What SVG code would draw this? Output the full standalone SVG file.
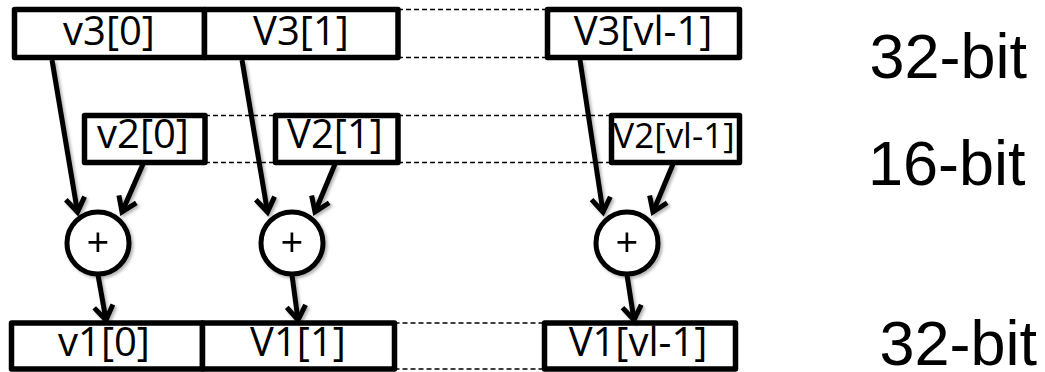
<svg xmlns="http://www.w3.org/2000/svg" width="1045" height="372" viewBox="0 0 1045 372">
  <style>
    .box { fill: #fff; stroke: #000; stroke-width: 5.5; stroke-linejoin: round; }
    .dash { stroke: #000; stroke-width: 1.6; stroke-dasharray: 5 3; fill: none; }
    .lbl { font-family: "Open Sans", "Liberation Sans", sans-serif; font-size: 40px; text-anchor: middle; fill: #000; }
    .adder { fill: #fff; stroke: #000; stroke-width: 5; }
    .plus { font-family: "Open Sans", "Liberation Sans", sans-serif; font-size: 40px; text-anchor: middle; fill: #000; }
    .wire { stroke: #000; stroke-width: 5; fill: none; }
    .width { font-family: "Liberation Sans", Arial, sans-serif; font-size: 63px; fill: #000; }
  </style>
  <defs>
    <marker id="head" markerUnits="userSpaceOnUse" markerWidth="30" markerHeight="30" viewBox="-20 -15 25 30" refX="0" refY="0" orient="auto">
      <path d="M -14 -9.5 L 0 0 L -14 9.5" fill="none" stroke="#000" stroke-width="5" stroke-linejoin="miter"/>
    </marker>
    <filter id="shade" x="-20%" y="-20%" width="140%" height="140%">
      <feDropShadow dx="2" dy="2" stdDeviation="1.5" flood-color="#000" flood-opacity="0.3"/>
    </filter>
  </defs>

  <!-- dashed outlines for the elided middle elements -->
  <g id="gaps">
    <line class="dash" x1="398" y1="9.5" x2="547.5" y2="9.5"/>
    <line class="dash" x1="398" y1="57.5" x2="547.5" y2="57.5"/>
    <line class="dash" x1="205" y1="115.5" x2="275.5" y2="115.5"/>
    <line class="dash" x1="205" y1="162.5" x2="275.5" y2="162.5"/>
    <line class="dash" x1="398" y1="115.5" x2="611.5" y2="115.5"/>
    <line class="dash" x1="398" y1="162.5" x2="611.5" y2="162.5"/>
    <line class="dash" x1="394.5" y1="323" x2="544.5" y2="323"/>
    <line class="dash" x1="394.5" y1="369" x2="544.5" y2="369"/>
  </g>

  <!-- v3: 32-bit source vector -->
  <g id="v3_0">
    <rect class="box" x="14.5" y="9.5" width="190" height="48"/>
    <text class="lbl" x="109" y="45">v3[0]</text>
  </g>
  <g id="v3_1">
    <rect class="box" x="204.5" y="9.5" width="193.5" height="48"/>
    <text class="lbl" x="301" y="45">V3[1]</text>
  </g>
  <g id="v3_last">
    <rect class="box" x="547.5" y="9.5" width="192" height="48"/>
    <text class="lbl" x="643" y="45">V3[vl-1]</text>
  </g>

  <!-- v2: 16-bit source vector -->
  <g id="v2_0">
    <rect class="box" x="84.5" y="115.5" width="120.5" height="47"/>
    <text class="lbl" x="143" y="148">v2[0]</text>
  </g>
  <g id="v2_1">
    <rect class="box" x="275.5" y="115.5" width="122.5" height="47"/>
    <text class="lbl" x="335" y="148">V2[1]</text>
  </g>
  <g id="v2_last">
    <rect class="box" x="611.5" y="115.5" width="128" height="47"/>
    <text class="lbl" x="674" y="148" style="font-size:35px">V2[vl-1]</text>
  </g>

  <!-- adders -->
  <g id="add_0" filter="url(#shade)">
    <circle class="adder" cx="98" cy="243" r="31"/>
    <text class="plus" x="98" y="257">+</text>
  </g>
  <g id="add_1" filter="url(#shade)">
    <circle class="adder" cx="292" cy="243" r="31"/>
    <text class="plus" x="292" y="257">+</text>
  </g>
  <g id="add_last" filter="url(#shade)">
    <circle class="adder" cx="627" cy="243" r="31"/>
    <text class="plus" x="627" y="257">+</text>
  </g>

  <!-- v1: 32-bit result vector -->
  <g id="v1_0">
    <rect class="box" x="11.5" y="323" width="191" height="46"/>
    <text class="lbl" x="104" y="356">v1[0]</text>
  </g>
  <g id="v1_1">
    <rect class="box" x="202.5" y="323" width="192" height="46"/>
    <text class="lbl" x="298" y="356">V1[1]</text>
  </g>
  <g id="v1_last">
    <rect class="box" x="544.5" y="323" width="191" height="46"/>
    <text class="lbl" x="638" y="356">V1[vl-1]</text>
  </g>

  <!-- data flow -->
  <g id="connectors" filter="url(#shade)">
    <line class="wire" x1="52" y1="60" x2="77.5" y2="212" marker-end="url(#head)"/>
    <line class="wire" x1="143" y1="164" x2="122" y2="212" marker-end="url(#head)"/>
    <line class="wire" x1="98" y1="275" x2="106" y2="320" marker-end="url(#head)"/>

    <line class="wire" x1="242" y1="60" x2="267.5" y2="212" marker-end="url(#head)"/>
    <line class="wire" x1="335" y1="164" x2="315" y2="212" marker-end="url(#head)"/>
    <line class="wire" x1="292" y1="275" x2="298" y2="320" marker-end="url(#head)"/>

    <line class="wire" x1="580" y1="60" x2="603" y2="212" marker-end="url(#head)"/>
    <line class="wire" x1="673" y1="164" x2="653" y2="212" marker-end="url(#head)"/>
    <line class="wire" x1="627" y1="275" x2="634" y2="320" marker-end="url(#head)"/>
  </g>

  <!-- element widths -->
  <g id="widths">
    <text class="width" x="869.5" y="78">32-bit</text>
    <text class="width" x="868" y="185">16-bit</text>
    <text class="width" x="879.5" y="365">32-bit</text>
  </g>
</svg>
